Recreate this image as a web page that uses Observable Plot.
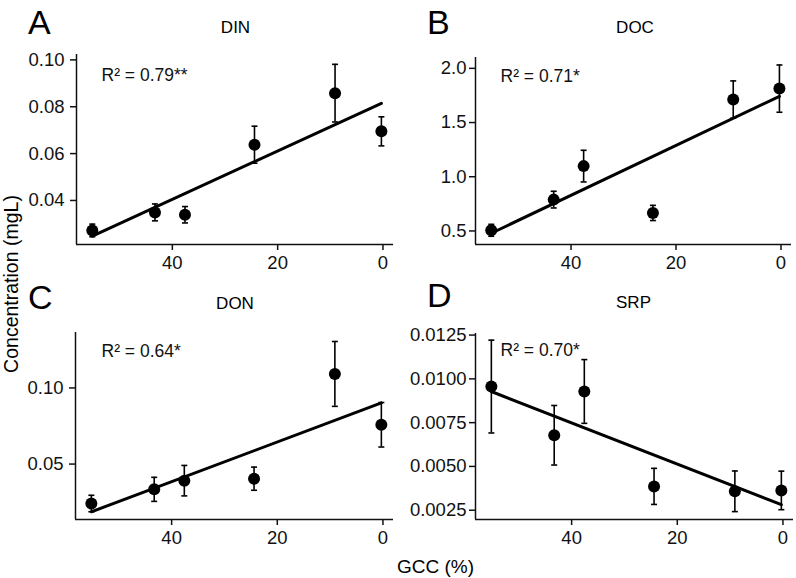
<!DOCTYPE html>
<html>
<head>
<meta charset="utf-8">
<script src="https://cdn.jsdelivr.net/npm/d3@7"></script>
<script src="https://cdn.jsdelivr.net/npm/@observablehq/plot@0.6"></script>
<style>
  html, body { margin: 0; padding: 0; background: #fff; }
  #fig { position: relative; width: 796px; height: 578px; overflow: hidden; font-family: "Liberation Sans", Arial, Helvetica, sans-serif; }
  #fig > svg { position: absolute; }
</style>
</head>
<body>
<div id="fig"></div>
<script>
// ---- data ----
const gcc = [55.2, 43.3, 37.6, 24.4, 9.1, 0.3];           // GCC (%)

const din    = [0.0272, 0.0349, 0.0339, 0.0638, 0.0858, 0.0695];
const dinErr = [0.0027, 0.0036, 0.0035, 0.0079, 0.0123, 0.0062];

const doc    = [0.506, 0.789, 1.098, 0.666, 1.712, 1.813];
const docErr = [0.055, 0.077, 0.146, 0.070, 0.172, 0.218];

const don    = [0.0241, 0.0334, 0.0391, 0.0404, 0.1092, 0.0758];
const donErr = [0.0054, 0.0079, 0.0100, 0.0076, 0.0213, 0.0146];

const srp    = [0.00956, 0.00678, 0.00928, 0.00386, 0.00358, 0.00363];
const srpErr = [0.00265, 0.00170, 0.00182, 0.00103, 0.00116, 0.00110];

const panelLetters = ["A", "B", "C", "D"];
const panelTitles  = ["DIN", "DOC", "DON", "SRP"];
const r2Labels     = ["R² = 0.79**", "R² = 0.71*", "R² = 0.64*", "R² = 0.70*"];

const xTicks  = [40, 20, 0];
const yTicksA = [0.04, 0.06, 0.08, 0.10];
const yTicksB = [0.5, 1.0, 1.5, 2.0];
const yTicksC = [0.05, 0.10];
const yTicksD = [0.0025, 0.0050, 0.0075, 0.0100, 0.0125];

const xDomain  = [58.2, -2.0];
const yDomainA = [0.0212, 0.1023];
const yDomainB = [0.375, 2.10];
const yDomainC = [0.0136, 0.1364];
const yDomainD = [0.00197, 0.01259];

const xLabel = "GCC (%)";
const yLabel = "Concentration (mgL)";

// ---- helpers ----
const FONT = '"Liberation Sans", Arial, Helvetica, sans-serif';
const capSymbol = {
  draw(ctx, size) {
    const w = Math.sqrt(size / Math.PI);
    ctx.moveTo(-w, 0);
    ctx.lineTo(w, 0);
  }
};

function panel(values, errs, yDomain, yTicks, fmt, r2, cfg) {
  const data = gcc.map((x, i) => ({x, y: values[i], e: errs[i]}));
  return Plot.plot({
    width: cfg.width, height: cfg.height,
    marginLeft: cfg.ml, marginRight: cfg.mr, marginTop: cfg.mt, marginBottom: cfg.mb,
    x: {domain: xDomain},
    y: {domain: yDomain},
    style: {fontFamily: FONT, fontSize: "18.5px", color: "#111", background: "transparent", overflow: "visible"},
    marks: [
      Plot.axisX(xTicks, {tickSize: 6, tickPadding: 5, strokeWidth: 1.5, label: null, tickFormat: d => String(d)}),
      Plot.axisY(yTicks, {tickSize: 6, tickPadding: cfg.tp, strokeWidth: 1.5, label: null, tickFormat: d3.format(fmt)}),
      Plot.ruleX([xDomain[0]], {stroke: "#111", strokeWidth: 1.5}),
      Plot.ruleY([yDomain[0]], {stroke: "#111", strokeWidth: 1.5}),
      Plot.ruleX(data, {x: "x", y1: d => d.y - d.e, y2: d => d.y + d.e, stroke: "#000", strokeWidth: 1.6}),
      Plot.dot(data, {x: "x", y: d => d.y + d.e, symbol: capSymbol, r: 3, fill: "none", stroke: "#000", strokeWidth: 1.6}),
      Plot.dot(data, {x: "x", y: d => d.y - d.e, symbol: capSymbol, r: 3, fill: "none", stroke: "#000", strokeWidth: 1.6}),
      Plot.linearRegressionY(data, {x: "x", y: "y", stroke: "#000", strokeWidth: 3, ci: 0}),
      Plot.dot(data, {x: "x", y: "y", r: 6, fill: "#000", stroke: "none"}),
      Plot.text([r2], {frameAnchor: "top-left", textAnchor: "start", lineAnchor: "top", dx: cfg.tx, dy: cfg.ty, fontSize: 17.5, fill: "#111"})
    ]
  });
}

const fig = document.getElementById("fig");
const specs = [
  {v: din, e: dinErr, d: yDomainA, t: yTicksA, f: ".2f", left: 0,   top: 0,   cfg: {width: 398, height: 290, ml: 76, mr: 5, mt: 54, mb: 46, tp: 6, tx: 25, ty: 14}},
  {v: doc, e: docErr, d: yDomainB, t: yTicksB, f: ".1f", left: 398, top: 0,   cfg: {width: 398, height: 290, ml: 77, mr: 5, mt: 57, mb: 46, tp: 3, tx: 25, ty: 12}},
  {v: don, e: donErr, d: yDomainC, t: yTicksC, f: ".2f", left: 0,   top: 290, cfg: {width: 398, height: 288, ml: 75, mr: 5, mt: 42, mb: 59, tp: 6, tx: 26, ty: 12}},
  {v: srp, e: srpErr, d: yDomainD, t: yTicksD, f: ".4f", left: 398, top: 290, cfg: {width: 398, height: 288, ml: 77, mr: 3, mt: 43, mb: 59, tp: 3, tx: 25, ty: 10}}
];
specs.forEach((s, i) => {
  const svg = panel(s.v, s.e, s.d, s.t, s.f, r2Labels[i], s.cfg);
  svg.style.left = s.left + "px";
  svg.style.top = s.top + "px";
  svg.style.maxWidth = "none";
  fig.appendChild(svg);
});

// ---- overlay text: panel letters, titles, shared axis labels ----
const ns = "http://www.w3.org/2000/svg";
const ov = document.createElementNS(ns, "svg");
ov.setAttribute("width", 796);
ov.setAttribute("height", 578);
ov.style.left = "0px"; ov.style.top = "0px";
ov.style.pointerEvents = "none";
ov.style.fontFamily = FONT;
function addText(txt, x, y, size, anchor, transform) {
  const t = document.createElementNS(ns, "text");
  t.textContent = txt;
  t.setAttribute("x", x); t.setAttribute("y", y);
  t.setAttribute("font-size", size);
  t.setAttribute("text-anchor", anchor);
  t.setAttribute("fill", "#000");
  if (transform) t.setAttribute("transform", transform);
  ov.appendChild(t);
}
const letterPos = [[28, 34], [427, 33.5], [28, 309], [427, 307]];
const titlePos  = [[235.5, 32.7], [635, 32.7], [235, 309.3], [633.5, 308.3]];
panelLetters.forEach((L, i) => addText(L, letterPos[i][0], letterPos[i][1], 34, "start"));
panelTitles.forEach((T, i) => addText(T, titlePos[i][0], titlePos[i][1], 17, "middle"));
addText(xLabel, 435.5, 572.5, 19, "middle");
addText(yLabel, 0, 0, 19.5, "middle", "translate(17.5,284) rotate(-90)");
fig.appendChild(ov);
</script>
</body>
</html>
